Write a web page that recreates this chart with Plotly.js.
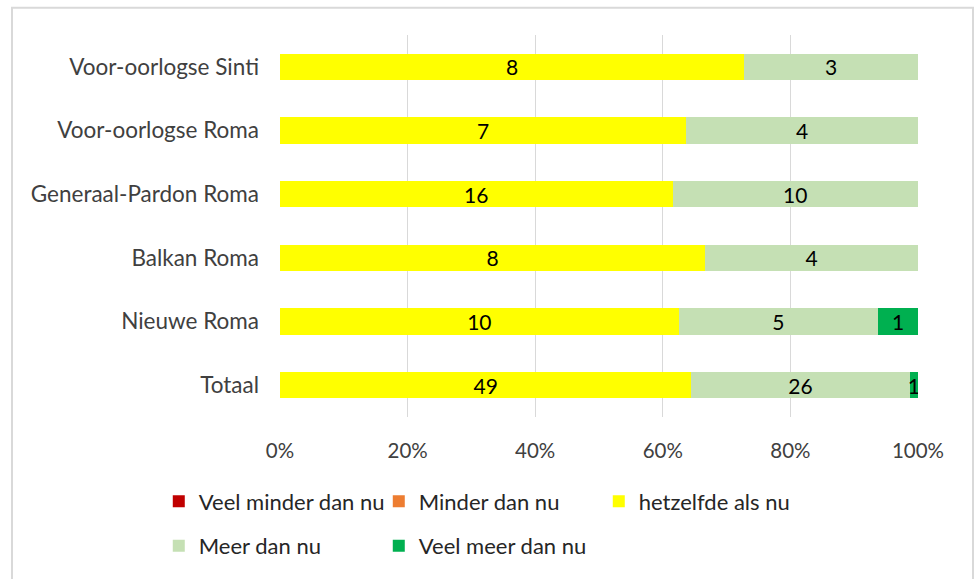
<!DOCTYPE html>
<html>
<head>
<meta charset="utf-8">
<script src="https://cdn.plot.ly/plotly-3.0.1.min.js"></script>
<style>
  html, body { margin: 0; padding: 0; background: #ffffff; }
  #chart { width: 978px; height: 579px; }
</style>
</head>
<body>
<div id="chart"></div>
<script>
// Categories, top to bottom
const categories = ["Voor-oorlogse Sinti", "Voor-oorlogse Roma", "Generaal-Pardon Roma", "Balkan Roma", "Nieuwe Roma", "Totaal"];

// Series (counts)
const veelMinder = [0, 0, 0, 0, 0, 0];
const minder     = [0, 0, 0, 0, 0, 0];
const hetzelfde  = [8, 7, 16, 8, 10, 49];
const meer       = [3, 4, 10, 4, 5, 26];
const veelMeer   = [0, 0, 0, 0, 1, 1];

const seriesNames = ["Veel minder dan nu", "Minder dan nu", "hetzelfde als nu", "Meer dan nu", "Veel meer dan nu"];
const seriesValues = [veelMinder, minder, hetzelfde, meer, veelMeer];
const seriesColors = ["#c00000", "#ed7d31", "#ffff00", "#c5e0b4", "#00b050"];
const seriesLegend = ["legend", "legend", "legend", "legend2", "legend2"];

const FONT = "Lato, 'Noto Sans', sans-serif";

const traces = seriesNames.map((name, i) => ({
  type: "bar",
  orientation: "h",
  name: name,
  y: categories,
  x: seriesValues[i],
  text: seriesValues[i].map(v => v > 0 ? String(v) : ""),
  textposition: "inside",
  insidetextanchor: "middle",
  textangle: 0,
  constraintext: "none",
  textfont: { family: FONT, size: 21, color: "#000000" },
  marker: { color: seriesColors[i], line: { width: 0 } },
  legend: seriesLegend[i],
  hoverinfo: "none"
}));

const legendCommon = {
  orientation: "h",
  x: -0.19, xanchor: "left",
  yanchor: "middle",
  entrywidth: 175,
  font: { family: FONT, size: 22, color: "#262626" },
  bgcolor: "rgba(0,0,0,0)",
  traceorder: "normal"
};

const layout = {
  width: 978,
  height: 579,
  margin: { l: 280, r: 60, t: 35, b: 159 },
  paper_bgcolor: "#ffffff",
  plot_bgcolor: "#ffffff",
  barmode: "stack",
  barnorm: "percent",
  bargap: 0.59,
  font: { family: FONT, size: 22, color: "#404040" },
  xaxis: {
    range: [0, 100],
    dtick: 20,
    tick0: 0,
    ticksuffix: "%",
    showgrid: true,
    gridcolor: "#d9d9d9",
    gridwidth: 1,
    zeroline: false,
    showline: false,
    ticks: "",
    ticklabelstandoff: 19,
    tickfont: { family: FONT, size: 20.5, color: "#404040" },
    fixedrange: true
  },
  yaxis: {
    autorange: "reversed",
    showgrid: false,
    zeroline: false,
    showline: false,
    ticks: "",
    ticklabelstandoff: 20,
    tickfont: { family: FONT, size: 22.5, color: "#404040" },
    fixedrange: true
  },
  showlegend: true,
  legend: Object.assign({}, legendCommon, { y: -0.2208 }),
  legend2: Object.assign({}, legendCommon, { y: -0.3377 }),
  shapes: [{
    type: "rect",
    xref: "paper", yref: "paper",
    x0: (12 - 280) / 638, x1: (973 - 280) / 638,
    y0: -0.6, y1: (420 - 7.5) / 385,
    line: { color: "#d9d9d9", width: 2 },
    fillcolor: "rgba(0,0,0,0)",
    layer: "below"
  }]
};

Plotly.newPlot("chart", traces, layout, { displayModeBar: false, staticPlot: true });
</script>
</body>
</html>
